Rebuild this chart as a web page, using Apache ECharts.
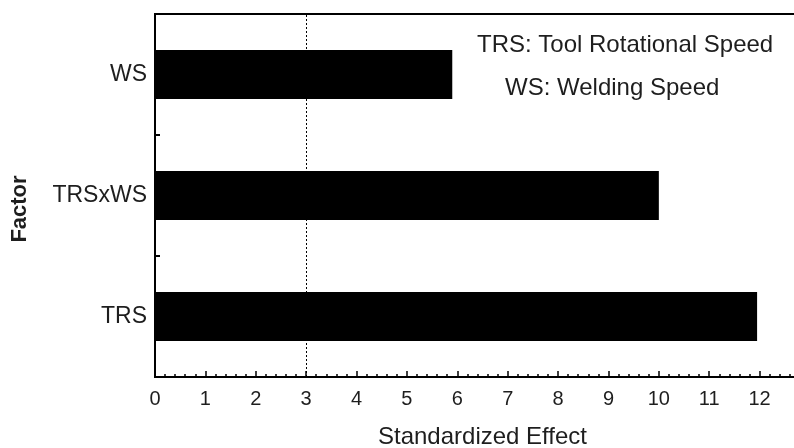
<!DOCTYPE html>
<html>
<head>
<meta charset="utf-8">
<script src="https://cdn.jsdelivr.net/npm/echarts@6/dist/echarts.min.js"></script>
<style>html,body{margin:0;padding:0;background:#fff}#c{width:794px;height:448px}</style>
</head>
<body>
<div id="c"></div>
<script>
const categories = ['TRS', 'TRSxWS', 'WS'];
const effects = [11.95, 10.0, 5.9];
const referenceLine = 3;
const xTicks = { min: 0, max: 13, interval: 1 };
const notes = ['TRS: Tool Rotational Speed', 'WS: Welding Speed'];

const FONT = '"Liberation Sans", Arial, sans-serif';
const TXT = '#1e1e1e';
const chart = echarts.init(document.getElementById('c'), null, { renderer: 'canvas' });
chart.setOption({
  animation: false,
  backgroundColor: '#fff',
  grid: { left: 155, right: -16, top: 14, bottom: 71, outerBoundsMode: 'none', containLabel: false,
    show: true, borderColor: '#000', borderWidth: 2, backgroundColor: 'transparent' },
  xAxis: {
    type: 'value', min: xTicks.min, max: xTicks.max, interval: xTicks.interval,
    name: 'Standardized Effect', nameLocation: 'middle', nameGap: 48,
    nameTextStyle: { fontFamily: FONT, fontSize: 24, color: TXT },
    axisLine: { show: true, lineStyle: { color: '#000', width: 2 } },
    axisTick: { show: true, inside: true, length: 6, lineStyle: { color: '#000', width: 1.5 } },
    minorTick: { show: true, splitNumber: 5, length: 3, lineStyle: { color: '#000', width: 1.5 } },
    splitLine: { show: false },
    axisLabel: { fontFamily: FONT, fontSize: 20, color: TXT, margin: 12 }
  },
  yAxis: {
    type: 'category', data: categories,
    axisLine: { show: true, lineStyle: { color: '#000', width: 2 } },
    axisTick: { show: true, inside: true, length: 5, alignWithLabel: false, lineStyle: { color: '#000', width: 2 } },
    axisLabel: { fontFamily: FONT, fontSize: 23, color: TXT, margin: 8 },
    splitLine: { show: false }
  },
  graphic: [
    { type: 'text', x: 20, y: 209, rotation: Math.PI / 2,
      style: { text: 'Factor', font: 'bold 22px ' + FONT, fill: TXT, align: 'center', verticalAlign: 'middle' } },
    { type: 'text', x: 477, y: 45,
      style: { text: notes[0], font: '24px ' + FONT, fill: TXT, align: 'left', verticalAlign: 'middle' } },
    { type: 'text', x: 505, y: 88,
      style: { text: notes[1], font: '24px ' + FONT, fill: TXT, align: 'left', verticalAlign: 'middle' } }
  ],
  series: [{
    type: 'bar', data: effects, barWidth: 49,
    itemStyle: { color: '#000' },
    markLine: {
      silent: true, symbol: 'none', label: { show: false },
      lineStyle: { color: '#000', type: [2, 2], width: 1 },
      data: [{ xAxis: referenceLine }]
    }
  }]
});
</script>
</body>
</html>
